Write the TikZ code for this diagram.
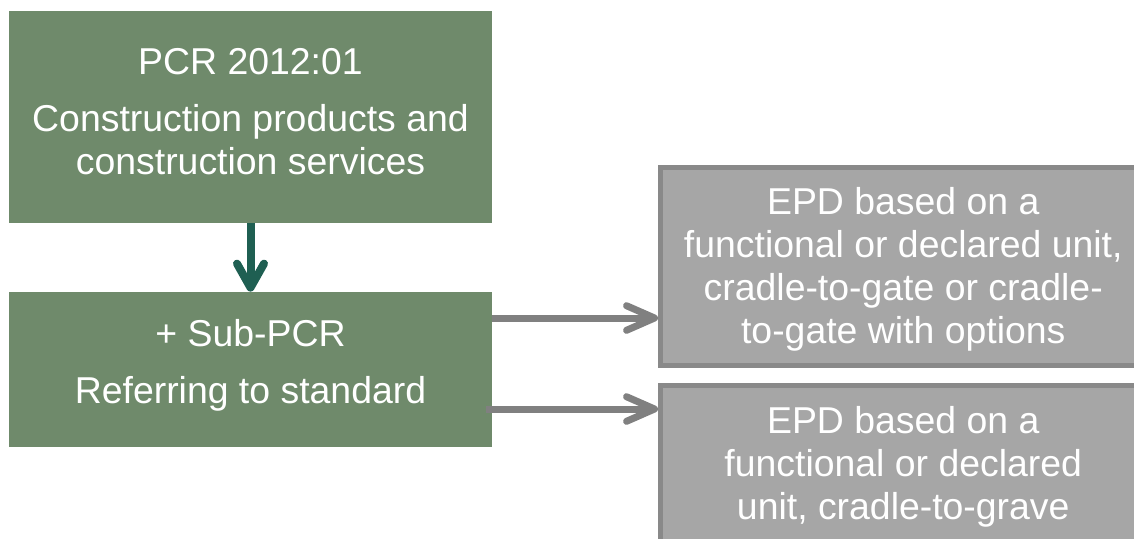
\documentclass[tikz,border=0pt]{standalone}
\usepackage{fontspec}
\setmainfont{Liberation Sans}
\usetikzlibrary{arrows.meta}
\definecolor{vertboite}{HTML}{6F8A6B}
\definecolor{vertfleche}{HTML}{1F5F52}
\definecolor{grisboite}{HTML}{A6A6A6}
\definecolor{grisbord}{HTML}{898989}
\definecolor{grisfleche}{HTML}{808080}

\begin{document}
\begin{tikzpicture}[x=0.5pt,y=-0.5pt]
% Styles
\tikzstyle{texte}=[text=white,align=center,inner sep=0pt,font=\fontsize{18.7}{21.5}\selectfont]
\tikzstyle{boiteverte}=[texte,fill=vertboite,minimum width=241.5pt]
\tikzstyle{boitegrise}=[texte,fill=grisboite,draw=grisbord,line width=2.5pt,minimum width=242.75pt]
\tikzstyle{flecheverte}=[-{Straight Barb[length=12pt,width=13.5pt,round]},line width=4pt,draw=vertfleche]
\tikzstyle{flechegrise}=[-{Straight Barb[length=14pt,width=12.3pt,round]},line width=3.5pt,draw=grisfleche]
% Cadre
\useasboundingbox (0,0) rectangle (1134,538);
\clip (0,0) rectangle (1134,538);
% Noeuds
\node[boiteverte,minimum height=106pt,text depth=6pt] (pcr) at (250.5,117) {PCR 2012:01\\[7pt]Construction products and\\construction services};
\node[boiteverte,minimum height=77.5pt,text depth=7.9pt] (sub) at (250.5,369.5) {+ Sub-PCR\\[7pt]Referring to standard};
\node[boitegrise,minimum height=99pt,text depth=0.9pt] (epda) at (903.25,266.5) {EPD based on a\\functional or declared unit,\\cradle-to-gate or cradle-\\to-gate with options};
\node[boitegrise,minimum height=81.25pt] (epdb) at (903.25,466.75) {EPD based on a\\functional or declared\\unit, cradle-to-grave};
\coordinate (da) at (492,318);
\coordinate (db) at (486,409);
% Arcs
\draw[flecheverte] (pcr.south) -- (sub.north);
\draw[flechegrise] (da) -- (epda.west |- da);
\draw[flechegrise] (db) -- (epdb.west |- db);
\end{tikzpicture}
\end{document}
